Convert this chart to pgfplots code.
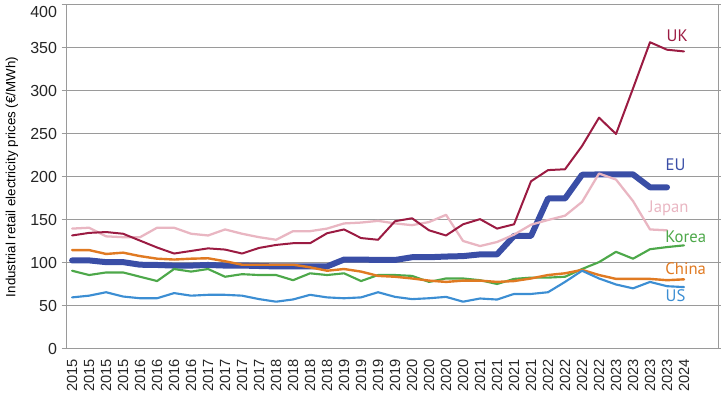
\documentclass[border=0pt]{standalone}
\usepackage{fontspec}
\setmainfont{Liberation Sans}
\newfontfamily\labfont{PT Sans}
\usepackage{pgfplots}
\usepackage{pgfplotstable}
\pgfplotsset{compat=1.18}
\definecolor{ukc}{HTML}{9B1B42}
\definecolor{euc}{HTML}{3A4EA6}
\definecolor{jpc}{HTML}{E9B6C2}
\definecolor{krc}{HTML}{4DA84A}
\definecolor{cnc}{HTML}{E07A22}
\definecolor{usc}{HTML}{3C8ED3}
\definecolor{gridc}{HTML}{9A9A9A}

\pgfplotstableread{
i v
0 132
1 135
2 136
3 134
4 126
5 118
6 111
7 114
8 117
9 115.6
10 111
11 117.5
12 121
13 123
14 123
15 134.6
16 139
17 129
18 127
19 148.6
20 152
21 138
22 132
23 145
24 151
25 140
26 145
27 195
28 208
29 209
30 236
31 269
32 250
33 303
34 356.7
35 348
36 346
}\uk

\pgfplotstableread{
i v
0 103
1 103
2 101
3 101
4 98
5 97.7
6 97
7 97
8 97.7
9 97
10 97
11 96.5
12 96
13 96
14 96
15 96
16 104
17 104
18 103.5
19 103.5
20 106.7
21 106.7
22 107.5
23 108
24 110
25 110
26 131.5
27 131.5
28 175
29 175
30 202.6
31 203
32 203
33 203
34 188
35 188
}\eu

\pgfplotstableread{
i v
0 140
1 141
2 131
3 130
4 130
5 141
6 141
7 134
8 132
9 139
10 134
11 130
12 127
13 137
14 137
15 140
16 146
17 147
18 149
19 146
20 144
21 147.6
22 156
23 125.6
24 119.7
25 124.4
26 133
27 144.5
28 150
29 155
30 171
31 204
32 197
33 172
34 139
35 138
}\jp

\pgfplotstableread{
i v
0 91
1 86
2 89
3 89
4 84
5 79
6 93
7 90
8 93
9 84
10 87
11 86
12 86
13 80
14 88
15 86
16 88
17 79
18 86
19 86
20 85
21 78
22 82
23 82
24 80
25 75.6
26 81.5
27 83
28 83
29 84
30 93
31 101
32 113
33 105
34 116
35 118.5
36 120.5
}\kr

\pgfplotstableread{
i v
0 115
1 115
2 110.5
3 112
4 108
5 105
6 104
7 105
8 105.5
9 102
10 98
11 98
12 98
13 98
14 95
15 91
16 93
17 90
18 85
19 84
20 82
21 79.5
22 78
23 79.5
24 79.5
25 78
26 79
27 82
28 86
29 88
30 92
31 86
32 81.5
33 81.5
34 81.5
35 80
36 81
}\cn

\pgfplotstableread{
i v
0 60
1 62
2 66
3 61
4 59
5 59
6 65
7 62
8 63
9 63
10 62
11 58
12 55
13 57.6
14 63
15 60
16 59
17 60
18 66
19 60.6
20 58
21 59
22 60.6
23 55
24 58.7
25 57.5
26 64
27 64
28 66
29 78
30 91
31 82
32 75
33 70.5
34 78
35 73
36 72
}\us

\begin{document}
\begin{tikzpicture}
\begin{axis}[
  scale only axis,
  width=488.25pt, height=258pt,
  xmin=-0.3, xmax=38, ymin=0, ymax=400,
  ytick={0,50,...,350},
  extra y ticks={400},
  extra y tick style={yticklabel style={yshift=-5.5pt}},
  xtick={0,...,36},
  xticklabels={2015,2015,2015,2015,2016,2016,2016,2016,2017,2017,2017,2017,2018,2018,2018,2018,2019,2019,2019,2019,2020,2020,2020,2020,2021,2021,2021,2021,2022,2022,2022,2022,2023,2023,2023,2023,2024},
  x tick label style={rotate=90, anchor=east, font=\fontsize{11}{12}\selectfont, text=black!85},
  y tick label style={font=\fontsize{12}{12}\selectfont, text=black!85},
  /pgf/number format/assume math mode=true,
  axis line style={gridc, line width=0.75pt},
  ymajorgrids, grid style={gridc, line width=0.75pt},
  major x tick style={draw=none},
  major y tick style={gridc, line width=0.75pt},
  tick align=outside, major tick length=4pt,
  ylabel={Industrial retail electricity prices (€/MWh)},
  ylabel style={font=\fontsize{10}{12}\selectfont, at={([xshift=-41.25pt]axis description cs:0,0.5)}, anchor=center},
  every axis plot/.append style={line join=round, line cap=round},
  after end axis/.code={\coordinate (bl) at (rel axis cs:0,0); \coordinate (tr) at (rel axis cs:1,1);},
]
\addplot[euc, line width=4.5pt, no markers] table[x=i, y=v] {\eu};
\addplot[jpc, line width=1.7pt, no markers] table[x=i, y=v] {\jp};
\addplot[ukc, line width=1.5pt, no markers] table[x=i, y=v] {\uk};
\addplot[krc, line width=1.6pt, no markers] table[x=i, y=v] {\kr};
\addplot[cnc, line width=1.8pt, no markers] table[x=i, y=v] {\cn};
\addplot[usc, line width=1.6pt, no markers] table[x=i, y=v] {\us};
\node[font=\labfont\fontsize{12.5}{14}\selectfont, text=ukc] at (axis cs:35.6,364) {UK};
\node[font=\labfont\fontsize{12.5}{14}\selectfont, text=euc] at (axis cs:35.5,214) {EU};
\node[font=\labfont\fontsize{12.5}{14}\selectfont, text=jpc] at (axis cs:35.1,163) {Japan};
\node[font=\labfont\fontsize{12.5}{14}\selectfont, text=krc] at (axis cs:36.1,130) {Korea};
\node[font=\labfont\fontsize{12.5}{14}\selectfont, text=cnc] at (axis cs:36.1,93) {China};
\node[font=\labfont\fontsize{12.5}{14}\selectfont, text=usc] at (axis cs:35.5,62) {US};
\end{axis}
\pgfresetboundingbox
\path ([xshift=-50.25pt,yshift=-33.75pt]bl) rectangle ([xshift=2.25pt,yshift=3.75pt]tr);
\end{tikzpicture}
\end{document}
